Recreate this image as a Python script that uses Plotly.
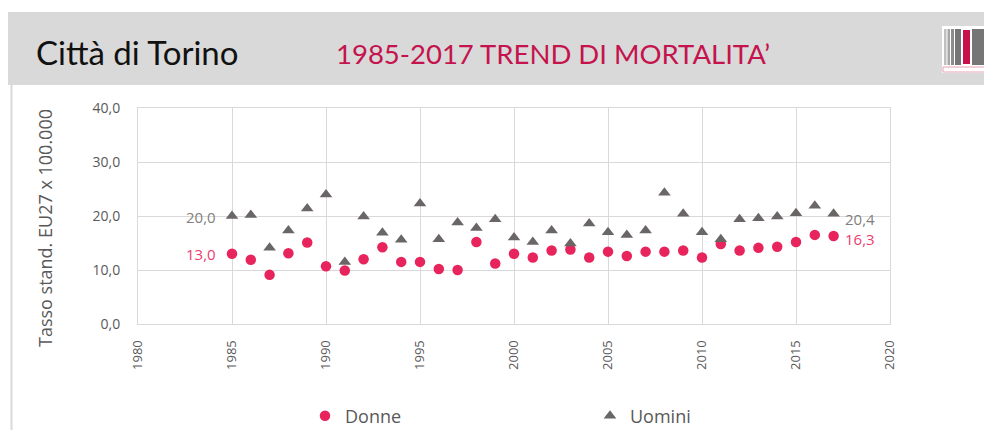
import plotly.graph_objects as go

# ---- data ----
years = list(range(1985, 2018))
donne = [13.0, 11.9, 9.1, 13.1, 15.1, 10.7, 9.9, 12.0, 14.2, 11.5, 11.5, 10.2, 10.0,
         15.2, 11.2, 13.0, 12.3, 13.6, 13.8, 12.3, 13.4, 12.6, 13.4, 13.4, 13.6, 12.3,
         14.8, 13.6, 14.1, 14.3, 15.2, 16.5, 16.3]
uomini = [20.0, 20.2, 14.1, 17.3, 21.4, 24.0, 11.5, 19.9, 16.9, 15.6, 22.3, 15.7, 18.8,
          17.8, 19.4, 16.0, 15.2, 17.3, 14.9, 18.6, 17.0, 16.5, 17.3, 24.3, 20.4, 17.0,
          15.7, 19.4, 19.6, 19.9, 20.5, 21.9, 20.4]
y_ticks = [0, 10, 20, 30, 40]
x_ticks = [1980, 1985, 1990, 1995, 2000, 2005, 2010, 2015, 2020]

# The page body has an 8px margin; the figure is sized so it fills the window.
OFF = 8
W, H = 992 - OFF, 430 - OFF
L, T = 138 - OFF, 108 - OFF
R = W - (890 - OFF)
B = H - (324 - OFF)
PW, PH = W - L - R, H - T - B


def X(px):  # page pixel -> paper x
    return (px - OFF - L) / PW


def Y(py):  # page pixel -> paper y
    return (H - B - (py - OFF)) / PH


def fmt(v):
    return f"{v:.1f}".replace(".", ",")


PINK = "#E8245C"
GREY = "#6B6666"

fig = go.Figure()
fig.add_trace(go.Scatter(
    x=years, y=donne, mode="markers", name="Donne",
    marker=dict(symbol="circle", size=10.5, color=PINK),
    cliponaxis=False,
))
fig.add_trace(go.Scatter(
    x=years, y=uomini, mode="markers", name="Uomini",
    marker=dict(symbol="triangle-up", size=11, color=GREY),
    cliponaxis=False,
))

shapes = [
    # header band
    dict(type="rect", xref="paper", yref="paper", x0=X(5), x1=X(1000), y0=Y(85), y1=Y(12),
         fillcolor="#D9D9D9", line=dict(width=0), layer="below"),
    # left border
    dict(type="line", xref="paper", yref="paper", x0=X(11.5), x1=X(11.5), y0=Y(85), y1=Y(440),
         line=dict(color="#D9D9D9", width=2)),
    # logo
    dict(type="rect", xref="paper", yref="paper", x0=X(942), x1=X(988), y0=Y(73), y1=Y(26),
         fillcolor="white", line=dict(width=0)),
    dict(type="rect", xref="paper", yref="paper", x0=X(944), x1=X(946.5), y0=Y(65), y1=Y(29),
         fillcolor="#BFBFBF", line=dict(width=0)),
    dict(type="rect", xref="paper", yref="paper", x0=X(947.5), x1=X(950), y0=Y(65), y1=Y(29),
         fillcolor="#A6A6A6", line=dict(width=0)),
    dict(type="rect", xref="paper", yref="paper", x0=X(951), x1=X(954), y0=Y(65), y1=Y(29),
         fillcolor="#8C8C8C", line=dict(width=0)),
    dict(type="rect", xref="paper", yref="paper", x0=X(955), x1=X(961), y0=Y(65), y1=Y(29),
         fillcolor="#757575", line=dict(width=0)),
    dict(type="rect", xref="paper", yref="paper", x0=X(963), x1=X(970), y0=Y(64), y1=Y(30),
         fillcolor="#C8104A", line=dict(width=0)),
    dict(type="rect", xref="paper", yref="paper", x0=X(972), x1=X(986), y0=Y(65), y1=Y(29),
         fillcolor="#767676", line=dict(width=0)),
    dict(type="rect", xref="paper", yref="paper", x0=X(943), x1=X(987), y0=Y(72), y1=Y(67),
         fillcolor="white", line=dict(color="#E8A0B4", width=1)),
]

annotations = [
    dict(text="Città di Torino", xref="paper", yref="paper", x=X(34), y=Y(52),
         xanchor="left", yanchor="middle", showarrow=False,
         font=dict(family="Lato", size=33, color="#111111")),
    dict(text="1985-2017 TREND DI MORTALITA’", xref="paper", yref="paper", x=X(334), y=Y(53),
         xanchor="left", yanchor="middle", showarrow=False,
         font=dict(family="Lato", size=27.5, color="#C4134D")),
    # y axis title
    dict(text="Tasso stand. EU27 x 100.000", xref="paper", yref="paper", x=X(45), y=Y(228),
         xanchor="center", yanchor="middle", textangle=-90, showarrow=False,
         font=dict(family="Open Sans", size=18, color="#595959")),
]

# end-of-series value labels, placed at the first and last data points
for vals, col, dy_first, dy_last in ((uomini, "#7F7F7F", 1, 5), (donne, "#F03C6E", 0, 3)):
    annotations.append(dict(x=years[0], y=vals[0], xref="x", yref="y", text=fmt(vals[0]),
                            xanchor="right", yanchor="middle", xshift=-14, yshift=-dy_first,
                            showarrow=False, font=dict(family="Open Sans", size=15, color=col)))
    annotations.append(dict(x=years[-1], y=vals[-1], xref="x", yref="y", text=fmt(vals[-1]),
                            xanchor="left", yanchor="middle", xshift=9, yshift=-dy_last,
                            showarrow=False, font=dict(family="Open Sans", size=15, color=col)))

fig.update_layout(
    width=W, height=H,
    margin=dict(l=L, r=R, t=T, b=B, autoexpand=False),
    paper_bgcolor="white", plot_bgcolor="white",
    separators=",.",
    font=dict(family="Open Sans", color="#595959"),
    shapes=shapes, annotations=annotations,
    showlegend=True,
    legend=dict(orientation="h", x=X(305), y=Y(416), xanchor="left", yanchor="middle",
                entrywidth=240, font=dict(size=18, color="#595959"),
                bgcolor="rgba(0,0,0,0)"),
)
fig.update_xaxes(range=[1980, 2020], tickvals=x_ticks, ticktext=[str(t) for t in x_ticks],
                 tickangle=-90, tickfont=dict(size=13, color="#595959"),
                 showgrid=True, gridcolor="#D9D9D9", gridwidth=1,
                 showline=True, linecolor="#D9D9D9", mirror=True, zeroline=False,
                 ticks="", ticklabelstandoff=10)
fig.update_yaxes(range=[0, 40], tickvals=y_ticks, tickformat=".1f",
                 tickfont=dict(size=14, color="#595959"),
                 showgrid=True, gridcolor="#D9D9D9", gridwidth=1,
                 showline=True, linecolor="#D9D9D9", mirror=True, zeroline=False,
                 ticks="", ticklabelstandoff=14)

fig.write_html("out.html")
